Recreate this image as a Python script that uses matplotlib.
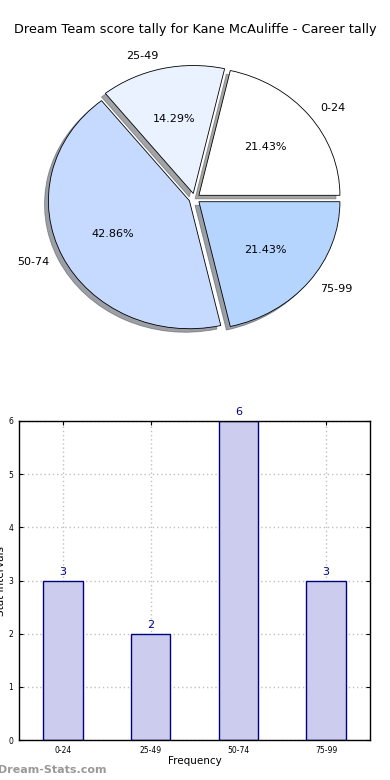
import matplotlib
matplotlib.use("Agg")
import matplotlib.pyplot as plt
import numpy as np

# data
categories = ["0-24", "25-49", "50-74", "75-99"]
counts = [3, 2, 6, 3]
pie_colors = ["#ffffff", "#eaf2ff", "#c6d9ff", "#b5d5ff"]
title = "Dream Team score tally for Kane McAuliffe - Career tally"

fig = plt.figure(figsize=(3.9, 7.8), dpi=100)

fig.text(0.5, 1 - 30 / 780, title, ha="center", va="center", fontsize=9.3)

# ===== pie (old style: not forced circular) =====
ax_pie = fig.add_axes([0, 1 - 350 / 780, 1, 300 / 780])
wedges, texts, autotexts = ax_pie.pie(
    counts, labels=categories, colors=pie_colors, explode=[0.04] * 4,
    autopct="%.2f%%", pctdistance=0.6, labeldistance=1.1, shadow=True,
    startangle=0, counterclock=True,
    wedgeprops=dict(edgecolor="black", linewidth=0.6),
    textprops=dict(fontsize=8))
ax_pie.set_aspect("auto")
sx, sy = 141.0, 128.0
ax_pie.set_xlim(-194.5 / sx, 195.5 / sx)
ax_pie.set_ylim(-151.5 / sy, 148.5 / sy)
ax_pie.axis("off")

# ===== bars =====
ax = fig.add_axes([19 / 390, 40 / 780, 351 / 390, 319 / 780])
x = np.arange(len(categories))
ax.bar(x, counts, 0.45, color="#ccccee", edgecolor="navy", linewidth=1, zorder=2)
for xi, c in zip(x, counts):
    ax.text(xi, c + 0.07, str(c), ha="center", va="bottom", color="navy", fontsize=8)

ax.set_xlim(-0.5, 3.5)
ax.set_ylim(0, 6)
ax.set_xticks(x)
ax.set_xticklabels(categories)
ax.set_yticks(range(7))
ax.tick_params(direction="in", top=True, right=True, labelsize=5.5, length=3, pad=4)
ax.grid(True, linestyle=(0, (1, 2)), color="#c0c0c0", linewidth=1, zorder=0)
ax.set_axisbelow(True)
ax.set_xlabel("Frequency", fontsize=7.5, labelpad=1)
ax.set_ylabel("Stat Intervals", fontsize=7.5, labelpad=2)
for s in ax.spines.values():
    s.set_linewidth(1)

fig.text(-0.005, 1 - 770 / 780, "Dream-Stats.com", ha="left", va="center",
         fontsize=8, color="#999999", fontweight="bold")

fig.savefig("out.png", dpi=100)
